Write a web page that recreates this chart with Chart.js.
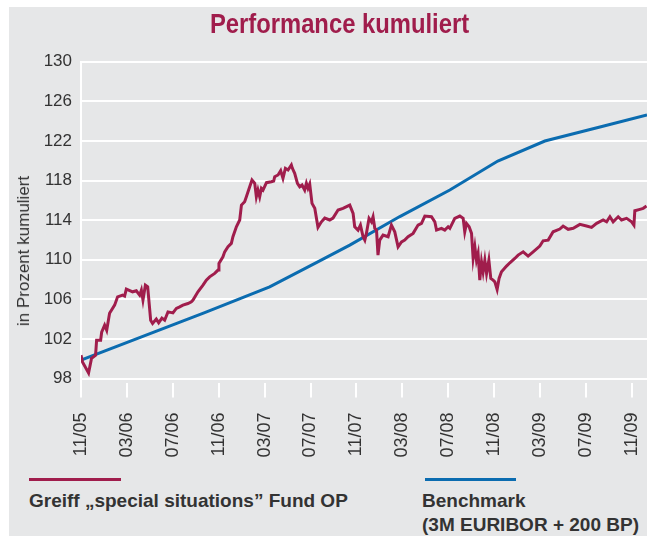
<!DOCTYPE html>
<html>
<head>
<meta charset="utf-8">
<script src="https://cdn.jsdelivr.net/npm/chart.js@4.4.0/dist/chart.umd.min.js"></script>
<style>
  html, body { margin: 0; padding: 0; background: #fff; }
  #panel { position: absolute; left: 9px; top: 7px; width: 638px; height: 529px; background: #e6e7e8; }
  #chart { position: absolute; left: 0; top: 0; }
  .txt { position: absolute; color: #333; font-family: "Liberation Sans", Arial, sans-serif; white-space: nowrap; }
  #title { left: 16px; width: 647px; top: 8px; text-align: center; color: #a01d4c;
           font: bold 28px "Liberation Sans", Arial, sans-serif; transform: scaleX(0.85); }
  #ytitle { left: 24px; top: 251px; font-size: 17px; transform: translate(-50%, -50%) rotate(-90deg); }
  .leg { font-weight: bold; font-size: 19px; line-height: 24px; }
  .legline { position: absolute; height: 3px; }
</style>
</head>
<body>
<div id="panel"></div>
<canvas id="chart" width="647" height="470"></canvas>
<div class="txt" id="title">Performance kumuliert</div>
<div class="txt" id="ytitle">in Prozent kumuliert</div>
<div class="legline" style="left:29px; top:478px; width:92px; background:#a01d4c;"></div>
<div class="legline" style="left:425px; top:478px; width:91px; background:#0b6cb0;"></div>
<div class="txt leg" style="left:29px; top:489px;">Greiff „special situations” Fund OP</div>
<div class="txt leg" style="left:422px; top:489px;">Benchmark<br>(3M EURIBOR + 200 BP)</div>
<script>
// Monate seit 11/2005
const xTickMonths = [0, 4, 8, 12, 16, 20, 24, 28, 32, 36, 40, 44, 48];
const xTickLabels = ['11/05', '03/06', '07/06', '11/06', '03/07', '07/07', '11/07',
                     '03/08', '07/08', '11/08', '03/09', '07/09', '11/09'];
const yTicks = [98, 102, 106, 110, 114, 118, 122, 126, 130];

// Greiff "special situations" Fund OP
const fundMonths = [
  0.0, 0.14, 0.66, 0.92, 1.27, 1.36, 1.71, 1.80, 2.06, 2.24, 2.49, 2.93, 3.19, 3.63, 3.80, 3.95,
  4.50, 4.82, 5.11, 5.26, 5.40, 5.61, 5.81, 6.07, 6.24, 6.56, 6.77, 7.05, 7.29, 7.58, 8.01, 8.31,
  8.60, 8.88, 9.32, 9.62, 9.76, 10.19, 10.63, 10.92, 11.21, 11.65, 11.94, 12.02, 12.37, 12.52, 12.81,
  13.10, 13.24, 13.54, 13.83, 13.98, 14.26, 14.41, 14.70, 14.90, 15.14, 15.28, 15.42, 15.57, 15.72,
  15.86, 16.16, 16.59, 16.79, 16.88, 17.17, 17.40, 17.60, 17.81, 18.04, 18.33, 18.42, 18.62, 18.86,
  19.06, 19.26, 19.49, 19.64, 19.78, 19.93, 20.13, 20.37, 20.65, 20.95, 21.24, 21.67, 21.96, 22.40,
  22.83, 23.42, 23.71, 23.85, 24.14, 24.35, 24.58, 24.73, 24.87, 25.10, 25.31, 25.45, 25.60, 25.75,
  25.88, 26.03, 26.32, 26.76, 27.05, 27.34, 27.63, 27.93, 28.21, 28.50, 28.94, 29.37, 29.67, 29.96,
  30.54, 30.83, 30.98, 31.41, 31.70, 31.99, 32.14, 32.57, 33.01, 33.30, 33.44, 33.59, 33.82, 34.03,
  34.17, 34.32, 34.46, 34.60, 34.75, 34.90, 35.04, 35.19, 35.34, 35.54, 35.71, 35.91, 36.06, 36.26,
  36.43, 36.64, 37.08, 37.37, 37.80, 38.09, 38.53, 38.96, 39.40, 39.98, 40.27, 40.71, 41.14, 41.72,
  42.01, 42.45, 42.89, 43.47, 44.05, 44.49, 44.93, 45.50, 45.80, 46.09, 46.37, 46.81, 47.10, 47.54,
  47.98, 48.18, 48.26, 48.70, 48.99, 49.28
];
const fundValues = [
  100.36, 99.65, 98.57, 100.05, 100.36, 101.87, 101.87, 102.68, 103.39, 102.88, 104.60, 105.41, 106.25, 106.42, 106.32, 107.03,
  106.76, 106.86, 106.42, 106.93, 105.92, 107.43, 107.26, 103.89, 103.56, 104.00, 103.62, 104.10, 103.89, 104.73, 104.63, 105.08,
  105.24, 105.41, 105.58, 105.75, 105.92, 106.76, 107.43, 107.94, 108.27, 108.62, 108.95, 109.63, 110.30, 110.80, 111.31,
  111.65, 112.32, 113.33, 114.01, 115.52, 115.86, 116.36, 117.37, 118.05, 117.72, 116.36, 117.04, 116.36, 117.21,
  117.04, 117.78, 117.88, 117.95, 118.38, 118.56, 118.99, 118.22, 119.23, 119.06, 119.57, 119.23, 118.73, 117.72,
  117.37, 117.54, 117.04, 117.72, 117.21, 117.65, 115.69, 115.19, 113.27, 113.83, 114.20, 114.01, 114.21, 115.02,
  115.19, 115.52, 114.68, 113.33, 112.99, 113.50, 112.32, 111.98, 112.66, 114.18, 113.83, 114.34, 113.17, 112.99,
  110.46, 111.98, 112.49, 112.32, 113.50, 112.82, 111.31, 111.81, 111.98, 112.32, 112.66, 113.50, 113.67, 114.41,
  114.34, 113.83, 112.99, 113.17, 112.99, 113.33, 113.17, 114.18, 114.41, 114.18, 112.82, 113.67, 113.33, 112.66,
  110.13, 111.31, 109.96, 110.64, 107.94, 109.79, 108.78, 109.96, 108.62, 109.96, 108.11, 107.94, 107.77, 107.00,
  108.11, 108.78, 109.36, 109.69, 110.13, 110.47, 110.80, 110.37, 110.80, 111.38, 111.91, 111.98, 112.82, 113.10,
  113.40, 113.07, 113.17, 113.57, 113.40, 113.27, 113.67, 114.01, 113.83, 114.34, 113.83, 114.34, 114.01, 114.18,
  113.83, 113.50, 114.95, 115.09, 115.19, 115.42
];

// Benchmark (3M EURIBOR + 200 BP)
const benchMonths = [0, 10.78, 16.44, 20.80, 23.42, 27.78, 32.14, 36.32, 40.42, 45.22, 49.32];
const benchValues = [99.85, 104.65, 107.26, 109.89, 111.48, 114.36, 117.04, 119.97, 121.99, 123.41, 124.62];

const tickFont = { family: '"Liberation Sans", Arial, sans-serif', size: 17 };

new Chart(document.getElementById('chart').getContext('2d'), {
  type: 'line',
  data: {
    datasets: [{
      label: 'Greiff „special situations” Fund OP',
      data: fundMonths.map((m, i) => ({ x: m, y: fundValues[i] })),
      borderColor: '#a01d4c',
      borderWidth: 3,
      pointRadius: 0,
      tension: 0
    }, {
      label: 'Benchmark (3M EURIBOR + 200 BP)',
      data: benchMonths.map((m, i) => ({ x: m, y: benchValues[i] })),
      borderColor: '#0b6cb0',
      borderWidth: 3,
      pointRadius: 0,
      tension: 0
    }]
  },
  options: {
    responsive: false,
    animation: false,
    layout: { padding: { top: 61.7, left: 0, right: 0, bottom: 0 } },
    plugins: { legend: { display: false }, tooltip: { enabled: false } },
    scales: {
      x: {
        type: 'linear',
        min: 0,
        max: 49.32,
        afterBuildTicks: s => { s.ticks = xTickMonths.map(v => ({ value: v })); },
        afterFit: s => { s.height = 87.5; s.paddingLeft = 0; s.paddingRight = 0; },
        border: { display: false },
        grid: { drawOnChartArea: false, drawTicks: true, tickLength: 15, color: '#fff', lineWidth: 2 },
        ticks: {
          minRotation: 90,
          maxRotation: 90,
          padding: 15,
          color: '#333',
          font: { family: tickFont.family, size: 18 },
          callback: v => xTickLabels[xTickMonths.indexOf(v)]
        }
      },
      y: {
        min: 97.6,
        max: 130,
        afterBuildTicks: s => { s.ticks = yTicks.map(v => ({ value: v })); },
        afterFit: s => { s.width = 81; },
        border: { display: true, color: '#fff', width: 2 },
        grid: { color: '#fff', lineWidth: 2, drawTicks: false },
        ticks: { padding: 9, color: '#333', font: tickFont }
      }
    }
  }
});
</script>
</body>
</html>
